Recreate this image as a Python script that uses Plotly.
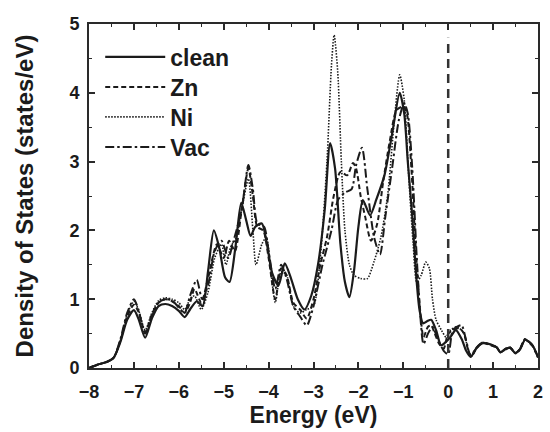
import plotly.graph_objects as go

# ---------------- data ----------------
x_clean = [-8.0, -7.8, -7.6, -7.45, -7.3, -7.15, -7.0, -6.9, -6.75, -6.6, -6.45, -6.3, -6.15, -6.0, -5.87,
           -5.75, -5.6, -5.47, -5.35, -5.22, -5.1, -4.97, -4.87, -4.74, -4.61, -4.5, -4.4, -4.3, -4.15, -4.05,
           -3.92, -3.78, -3.64, -3.5, -3.35, -3.2, -3.05, -2.9, -2.75, -2.63, -2.52, -2.4, -2.3, -2.2, -2.1,
           -2.0, -1.9, -1.74, -1.6, -1.42, -1.25, -1.08, -0.98, -0.9, -0.8, -0.72, -0.64, -0.56, -0.47, -0.38,
           -0.27, -0.16, -0.05, 0.05, 0.17, 0.3, 0.4, 0.5, 0.62, 0.77, 0.9, 0.99, 1.08, 1.16, 1.28, 1.38,
           1.49, 1.6, 1.71, 1.8, 1.88, 2.0]
y_clean = [0.0, 0.05, 0.09, 0.15, 0.38, 0.7, 0.84, 0.72, 0.44, 0.72, 0.9, 0.93, 0.9, 0.83, 0.74,
           0.85, 0.97, 0.9, 1.4, 2.0, 1.75, 1.32, 1.25, 1.75, 2.4, 2.15, 1.92, 2.05, 2.1, 1.85,
           1.38, 1.2, 1.52, 1.3, 1.0, 0.85, 1.05, 1.5, 2.3, 3.27, 2.9, 1.8, 1.25, 1.03, 1.4,
           2.05, 2.44, 2.22, 2.45, 2.8, 3.4, 4.0, 3.7, 3.0, 2.2, 1.4, 0.85, 0.65, 0.68, 0.7,
           0.55, 0.33, 0.38, 0.45, 0.55, 0.42, 0.25, 0.16, 0.28, 0.36, 0.35, 0.33, 0.3, 0.23, 0.28, 0.29,
           0.22, 0.27, 0.41, 0.38, 0.33, 0.16]

x_zn = [-8.0, -7.8, -7.6, -7.45, -7.3, -7.15, -7.0, -6.9, -6.75, -6.6, -6.45, -6.3, -6.15, -6.0, -5.87,
        -5.75, -5.65, -5.5, -5.35, -5.15, -5.0, -4.88, -4.75, -4.6, -4.45, -4.35, -4.25, -4.12, -4.0, -3.85,
        -3.72, -3.6, -3.45, -3.3, -3.15, -3.0, -2.85, -2.7, -2.55, -2.4, -2.25, -2.12, -2.05, -1.95, -1.85,
        -1.72, -1.58, -1.45, -1.3, -1.15, -1.0, -0.92, -0.82, -0.72, -0.62, -0.55, -0.45, -0.38, -0.3, -0.2,
        -0.1, 0.0, 0.12, 0.25, 0.35, 0.45, 0.52, 0.64, 0.77, 0.9, 1.0, 1.08, 1.17, 1.28, 1.38, 1.5, 1.6,
        1.71, 1.8, 1.88, 2.0]
y_zn = [0.0, 0.05, 0.09, 0.15, 0.4, 0.75, 0.92, 0.82, 0.52, 0.78, 0.95, 1.0, 0.97, 0.9, 0.8,
        0.95, 1.15, 0.95, 1.3, 1.8, 1.6, 1.85, 1.7, 2.3, 2.9, 2.5, 2.05, 2.0, 1.6, 1.0,
        1.45, 1.35, 0.95, 0.85, 0.72, 1.0, 1.5, 1.9, 2.5, 2.85, 2.8, 2.98, 2.9, 2.5, 2.2,
        1.85, 2.1, 2.7, 3.3, 3.75, 3.8, 3.7, 2.9, 1.7, 0.8, 0.45, 0.6, 0.62, 0.5, 0.35,
        0.28, 0.5, 0.55, 0.58, 0.5, 0.25, 0.17, 0.3, 0.37, 0.34, 0.32, 0.3, 0.22, 0.28, 0.3, 0.22, 0.28,
        0.42, 0.37, 0.32, 0.16]

x_ni = [-8.0, -7.8, -7.6, -7.45, -7.3, -7.15, -7.0, -6.9, -6.75, -6.6, -6.45, -6.3, -6.15, -6.0, -5.87,
        -5.75, -5.65, -5.5, -5.35, -5.2, -5.05, -4.95, -4.85, -4.72, -4.6, -4.45, -4.35, -4.28, -4.15, -4.05,
        -3.95, -3.85, -3.72, -3.6, -3.45, -3.3, -3.15, -3.0, -2.85, -2.7, -2.6, -2.54, -2.46, -2.38, -2.3,
        -2.2, -2.1, -1.95, -1.8, -1.65, -1.5, -1.35, -1.2, -1.08, -0.98, -0.88, -0.78, -0.7, -0.6, -0.5,
        -0.42, -0.35, -0.27, -0.15, -0.05, 0.05, 0.2, 0.35, 0.45, 0.52, 0.64, 0.77, 0.9, 1.0, 1.08, 1.17,
        1.28, 1.38, 1.5, 1.6, 1.71, 1.8, 1.88, 2.0]
y_ni = [0.0, 0.05, 0.09, 0.15, 0.4, 0.78, 0.97, 0.85, 0.55, 0.8, 0.98, 1.02, 1.0, 0.95, 0.85,
        1.0, 1.05, 0.85, 1.1, 1.6, 1.8, 1.5, 1.75, 1.9, 2.3, 2.75, 2.0, 1.5, 1.8, 1.9,
        1.4, 0.95, 1.4, 1.35, 0.9, 0.8, 0.85, 0.9, 1.6, 3.0, 4.4, 4.84, 4.3, 3.0, 2.0,
        1.5, 1.35, 1.3, 1.3, 1.55, 1.9, 2.5, 3.6, 4.26, 3.9, 2.8, 1.8, 1.25, 1.35, 1.54,
        1.45, 1.0, 0.7, 0.55, 0.45, 0.55, 0.6, 0.5, 0.25, 0.17, 0.3, 0.36, 0.35, 0.33, 0.3, 0.23,
        0.28, 0.29, 0.22, 0.27, 0.41, 0.38, 0.33, 0.16]

x_vac = [-8.0, -7.8, -7.6, -7.45, -7.3, -7.15, -7.0, -6.9, -6.75, -6.6, -6.45, -6.3, -6.15, -6.0, -5.87,
         -5.75, -5.6, -5.48, -5.35, -5.2, -5.05, -4.9, -4.78, -4.6, -4.45, -4.35, -4.25, -4.1, -4.0, -3.85,
         -3.72, -3.6, -3.45, -3.3, -3.15, -3.0, -2.8, -2.6, -2.45, -2.3, -2.15, -2.05, -1.92, -1.8, -1.65,
         -1.52, -1.4, -1.25, -1.1, -0.98, -0.9, -0.8, -0.7, -0.62, -0.55, -0.45, -0.35, -0.25, -0.1, 0.0,
         0.1, 0.2, 0.3, 0.4, 0.5, 0.62, 0.77, 0.9, 1.0, 1.08, 1.17, 1.28, 1.38, 1.5, 1.6, 1.71, 1.8, 1.88, 2.0]
y_vac = [0.0, 0.05, 0.09, 0.15, 0.42, 0.8, 1.0, 0.85, 0.5, 0.75, 0.95, 1.0, 0.98, 0.88, 0.8,
         1.05, 1.28, 1.0, 1.2, 1.7, 1.85, 1.6, 1.85, 2.3, 2.95, 2.6, 2.1, 2.05, 1.7, 1.15,
         1.5, 1.3, 0.9, 0.75, 0.62, 0.9, 1.5, 2.0, 2.45, 2.55, 2.6, 2.95, 3.2, 2.6, 1.9,
         1.65, 2.2, 2.9, 3.6, 3.85, 3.7, 2.9, 1.6, 0.75, 0.35, 0.5, 0.6, 0.45, 0.25, 0.2,
         0.55, 0.6, 0.62, 0.4, 0.17, 0.29, 0.37, 0.35, 0.32, 0.3, 0.23, 0.27, 0.3, 0.21, 0.28, 0.42, 0.38, 0.32, 0.15]

series_names = ["clean", "Zn", "Ni", "Vac"]
fermi_energy = 0.0
fermi_line_top = 4.8
x_range = [-8, 2]
y_range = [0, 5]
x_title = "Energy (eV)"
y_title = "Density of States (states/eV)"

# ---------------- styling ----------------
FONT = "Liberation Sans, Arial, Helvetica, sans-serif"
INK = "#1b1b1b"
styles = [
    dict(width=2.2, dash="solid"),
    dict(width=2.0, dash="5px,3px"),
    dict(width=1.6, dash="1.5px,1.5px"),
    dict(width=2.0, dash="9px,3px,2.5px,3px"),
]
legend_ids = ["legend", "legend2", "legend3", "legend4"]
legend_rows_y = [0.904, 0.817, 0.730, 0.642]   # paper positions of the legend rows

fig = go.Figure()
for i, (name, xs, ys) in enumerate(zip(series_names, [x_clean, x_zn, x_ni, x_vac],
                                         [y_clean, y_zn, y_ni, y_vac])):
    fig.add_trace(go.Scatter(
        x=xs, y=ys, mode="lines", name=name, legend=legend_ids[i],
        line=dict(color=INK, width=styles[i]["width"], dash=styles[i]["dash"],
                  shape="spline", smoothing=0.7),
    ))

fig.add_shape(type="line", xref="x", yref="y", x0=fermi_energy, x1=fermi_energy,
              y0=y_range[0], y1=fermi_line_top,
              line=dict(color="#333333", width=2.5, dash="9px,6px"))

axis_common = dict(
    showline=True, linecolor="#2a2a2a", linewidth=2, mirror="allticks",
    ticks="inside", ticklen=6, tickwidth=1.6, tickcolor="#2a2a2a",
    showgrid=False, zeroline=False,
    tickfont=dict(family=FONT, size=18, color=INK, weight="bold"),
)

fig.update_xaxes(range=x_range, dtick=1, tick0=-8,
                 minor=dict(dtick=0.5, ticks="inside", ticklen=3, tickwidth=1.4, tickcolor="#2a2a2a"),
                 title=dict(text=x_title, font=dict(family=FONT, size=23, color=INK, weight="bold"),
                            standoff=2),
                 ticklabelstandoff=6,
                 **axis_common)
fig.update_yaxes(range=y_range, dtick=1, tick0=0,
                 minor=dict(dtick=0.5, ticks="inside", ticklen=3, tickwidth=1.4, tickcolor="#2a2a2a"),
                 title=dict(text=y_title, font=dict(family=FONT, size=24, color=INK, weight="bold"),
                            standoff=29),
                 ticklabelstandoff=4,
                 **axis_common)

legend_common = dict(x=0.025, xanchor="left", yanchor="middle",
                     bgcolor="rgba(0,0,0,0)", borderwidth=0,
                     font=dict(family=FONT, size=23, color=INK, weight="bold"),
                     itemwidth=60)

fig.update_layout(
    width=550, height=432,
    margin=dict(l=89, r=7, t=24, b=64),
    paper_bgcolor="white", plot_bgcolor="white",
    showlegend=True,
    legend=dict(y=legend_rows_y[0], **legend_common),
    legend2=dict(y=legend_rows_y[1], **legend_common),
    legend3=dict(y=legend_rows_y[2], **legend_common),
    legend4=dict(y=legend_rows_y[3], **legend_common),
)

fig.write_html("out.html")
